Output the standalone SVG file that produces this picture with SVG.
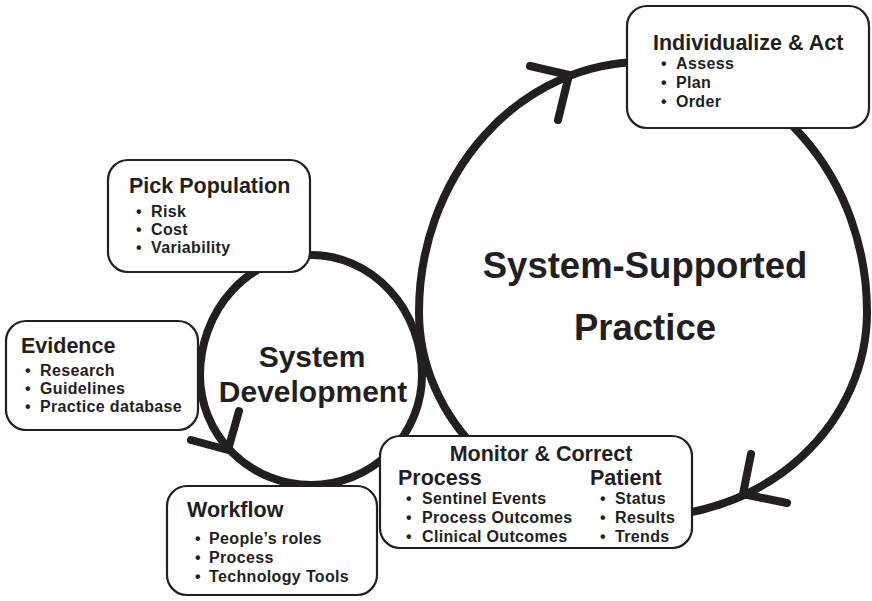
<svg xmlns="http://www.w3.org/2000/svg" width="872" height="601" viewBox="0 0 872 601">
<style>
text{font-family:"Liberation Sans",Arial,sans-serif;font-weight:bold;fill:#231f20}
.t{font-size:21.5px}
.b{font-size:16px;letter-spacing:0.35px}
.big{font-size:36.5px}
.mid{font-size:30px}
.box{fill:#fff;stroke:#231f20;stroke-width:2.2}
.cyc{fill:none;stroke:#231f20;stroke-width:8}
.arr{fill:none;stroke:#231f20;stroke-width:8;stroke-linecap:round;stroke-linejoin:round}
</style>
<g id="connectors">
<path id="cycle-practice" class="cyc" d="M419,312 A224,250 0 0 1 643,62 A224,250 0 0 1 867,312 A224,205 0 0 1 643,517 A224,205 0 0 1 419,312 Z"/>
<path id="cycle-development" class="cyc" d="M200,375 A111,120 0 0 1 311,255 A111,120 0 0 1 422,375 A111,110 0 0 1 311,485 A111,110 0 0 1 200,375 Z"/>
<polyline class="arr" points="530,66 569,75 558,120"/>
<polyline class="arr" points="751,454 743,494 787,503"/>
<polyline class="arr" points="239,411 228,450 191,440"/>
</g>
<g id="label-practice">
<text class="big" x="645" y="278" text-anchor="middle">System-Supported</text>
<text class="big" x="645" y="340" text-anchor="middle">Practice</text>
</g>
<g id="label-development">
<text class="mid" x="312" y="367" text-anchor="middle">System</text>
<text class="mid" x="313" y="402" text-anchor="middle">Development</text>
</g>
<g id="individualize">
<rect class="box" x="627" y="6" width="242" height="122" rx="20"/>
<text class="t" x="653" y="50">Individualize &amp; Act</text>
<text class="b" x="661" y="69">•<tspan x="676">Assess</tspan></text>
<text class="b" x="661" y="88">•<tspan x="676">Plan</tspan></text>
<text class="b" x="661" y="107">•<tspan x="676">Order</tspan></text>
</g>
<g id="pick-population">
<rect class="box" x="108" y="160" width="202" height="112" rx="20"/>
<text class="t" x="129" y="193">Pick Population</text>
<text class="b" x="136" y="217">•<tspan x="151">Risk</tspan></text>
<text class="b" x="136" y="235">•<tspan x="151">Cost</tspan></text>
<text class="b" x="136" y="253">•<tspan x="151">Variability</tspan></text>
</g>
<g id="evidence">
<rect class="box" x="6" y="321" width="192" height="109" rx="20"/>
<text class="t" x="21" y="353">Evidence</text>
<text class="b" x="25" y="376">•<tspan x="40">Research</tspan></text>
<text class="b" x="25" y="394">•<tspan x="40">Guidelines</tspan></text>
<text class="b" x="25" y="412">•<tspan x="40">Practice database</tspan></text>
</g>
<g id="monitor">
<rect class="box" x="380" y="436" width="312" height="112" rx="20"/>
<text class="t" x="541" y="461" text-anchor="middle">Monitor &amp; Correct</text>
<text class="t" x="398" y="485">Process</text>
<text class="t" x="590" y="485">Patient</text>
<text class="b" x="406" y="504">•<tspan x="422">Sentinel Events</tspan></text>
<text class="b" x="406" y="523">•<tspan x="422">Process Outcomes</tspan></text>
<text class="b" x="406" y="542">•<tspan x="422">Clinical Outcomes</tspan></text>
<text class="b" x="600" y="504">•<tspan x="615">Status</tspan></text>
<text class="b" x="600" y="523">•<tspan x="615">Results</tspan></text>
<text class="b" x="600" y="542">•<tspan x="615">Trends</tspan></text>
</g>
<g id="workflow">
<rect class="box" x="167" y="486" width="210" height="109" rx="20"/>
<text class="t" x="187" y="517">Workflow</text>
<text class="b" x="195" y="544">•<tspan x="209">People’s roles</tspan></text>
<text class="b" x="195" y="563">•<tspan x="209">Process</tspan></text>
<text class="b" x="195" y="582">•<tspan x="209">Technology Tools</tspan></text>
</g>
</svg>
